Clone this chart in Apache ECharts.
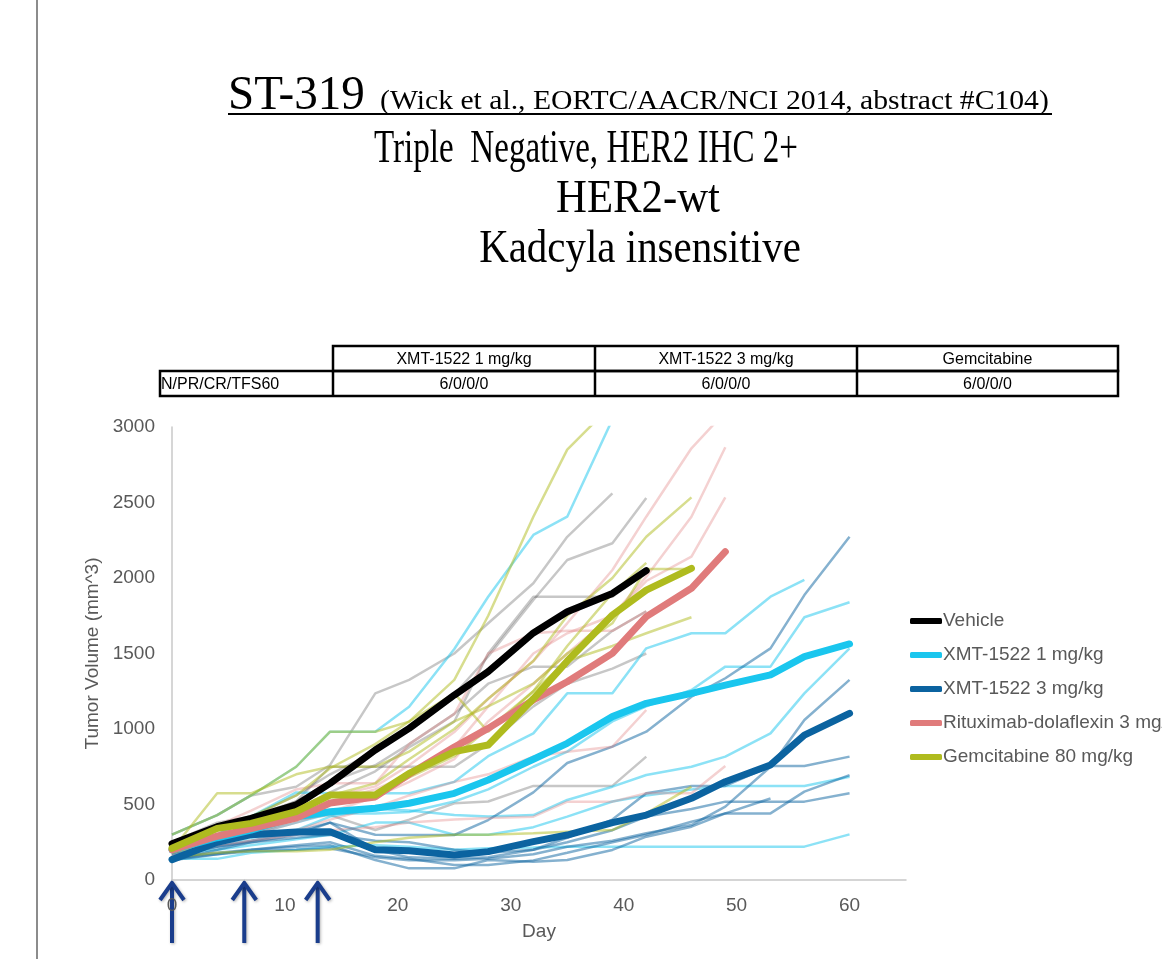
<!DOCTYPE html>
<html>
<head>
<meta charset="utf-8">
<script src="https://cdn.jsdelivr.net/npm/echarts@6/dist/echarts.min.js"></script>
<style>
    html, body { margin: 0; padding: 0; background: #fff; }
    #myChart { width: 1162px; height: 959px; }
</style>
</head>
<body>
<div id="myChart"></div>
<script>
/*----------数据--------*/
var days = [0, 4, 7, 11, 14, 18, 21, 25, 28, 32, 35, 39, 42, 46, 49, 53, 56, 60];
var doseDays = [0, 6.4, 12.9];

var groupNames = ['Vehicle', 'XMT-1522 1 mg/kg', 'XMT-1522 3 mg/kg', 'Rituximab-dolaflexin 3 mg/kg', 'Gemcitabine 80 mg/kg'];

// group means (bold lines)
var vehicleMean = [240, 353, 408, 497, 640, 861, 1004, 1225, 1380, 1636, 1777, 1898, 2049];
var xmt1Mean = [200, 280, 330, 419, 452, 475, 508, 574, 662, 800, 905, 1082, 1170, 1236, 1291, 1358, 1479, 1563];
var xmt3Mean = [135, 250, 300, 318, 320, 200, 194, 166, 188, 254, 298, 380, 430, 541, 651, 762, 960, 1104];
var rituxMean = [200, 290, 340, 410, 510, 550, 700, 880, 1004, 1192, 1313, 1501, 1744, 1932, 2174];
var gemMean = [210, 342, 375, 453, 563, 563, 706, 850, 894, 1200, 1450, 1755, 1920, 2064];

// individual animals (thin lines)
var vehicleMice = [
    [300, 430, 560, 618, 762, 1236, 1325, 1500, 1700, 1965, 2273, 2561],
    [250, 380, 420, 560, 700, 850, 1000, 1230, 1480, 1854, 2119, 2230, 2530],
    [230, 330, 380, 460, 580, 720, 880, 1050, 1500, 1876, 1876, 1876, 2040],
    [220, 330, 420, 520, 650, 760, 900, 1100, 1300, 1413, 1413, 1650, 1780],
    [180, 250, 300, 400, 430, 331, 400, 508, 520, 623, 623, 623, 817],
    [200, 300, 400, 520, 750, 750, 750, 750, 900, 1150, 1300, 1400, 1500]
];
var xmt1Mice = [
    [300, 430, 560, 750, 982, 982, 1148, 1530, 1876, 2285, 2406, 3050],
    [220, 300, 420, 580, 575, 575, 575, 650, 820, 971, 1236, 1236, 1534, 1634, 1634, 1876, 1987],
    [200, 250, 300, 380, 440, 440, 450, 520, 600, 750, 850, 1050, 1150, 1258, 1413, 1413, 1740, 1839],
    [180, 230, 280, 330, 420, 470, 460, 430, 420, 430, 530, 618, 695, 750, 817, 971, 1236, 1534],
    [140, 140, 180, 200, 220, 230, 220, 200, 210, 215, 220, 221, 221, 221, 221, 221, 221, 302],
    [170, 200, 230, 270, 300, 380, 380, 300, 300, 350, 420, 520, 560, 600, 623, 623, 623, 684]
];
var xmt3Mice = [
    [150, 220, 260, 320, 380, 300, 298, 298, 397, 580, 775, 883, 982, 1214, 1336, 1534, 1887, 2273],
    [130, 170, 190, 200, 210, 150, 130, 130, 140, 170, 220, 260, 309, 364, 486, 750, 1060, 1325],
    [130, 200, 250, 300, 380, 200, 150, 140, 150, 200, 280, 400, 574, 623, 623, 755, 755, 817],
    [150, 180, 200, 230, 250, 160, 140, 100, 100, 130, 180, 250, 300, 386, 441, 441, 585, 695],
    [170, 220, 250, 280, 300, 260, 250, 200, 180, 200, 250, 330, 420, 470, 519, 519, 519, 574],
    [140, 170, 200, 220, 230, 132, 77, 77, 132, 121, 132, 199, 287, 353, 441, 540]
];
var rituxMice = [
    [220, 320, 380, 430, 550, 620, 760, 980, 1200, 1450, 1700, 2053, 2406, 2859, 3100],
    [200, 290, 340, 420, 520, 600, 700, 880, 1150, 1500, 1634, 1750, 2009, 2406, 2866],
    [180, 260, 300, 380, 450, 550, 650, 800, 1050, 1300, 1500, 1750, 1980, 2141, 2534],
    [160, 230, 260, 300, 330, 350, 380, 400, 410, 419, 519, 519, 574, 574, 755],
    [190, 250, 290, 330, 400, 480, 560, 650, 700, 817, 850, 883, 1126],
    [240, 360, 460, 600, 640, 640, 900, 1100, 1500, 1634, 1650, 1650, 1780]
];
var gemMice = [
    [200, 574, 574, 700, 750, 750, 850, 1050, 1150, 1300, 1500, 1700, 2060, 2060],
    [300, 430, 560, 750, 982, 982, 1049, 1325, 1750, 2406, 2850, 3150],
    [230, 340, 400, 480, 560, 640, 800, 1000, 1200, 1450, 1750, 2000, 2273, 2534],
    [250, 360, 420, 560, 740, 900, 1050, 1236, 982, 1250, 1450, 1550, 1634, 1740],
    [150, 180, 190, 190, 200, 250, 280, 300, 300, 309, 320, 331, 441, 618],
    [180, 260, 320, 420, 500, 560, 680, 820, 1000, 1250, 1550, 1900, 2100]
];

var yTicks = [0, 500, 1000, 1500, 2000, 2500, 3000];

// summary table
var tableHeaders = ['XMT-1522 1 mg/kg', 'XMT-1522 3 mg/kg', 'Gemcitabine'];
var tableRowLabel = 'N/PR/CR/TFS60';
var tableValues = ['6/0/0/0', '6/0/0/0', '6/0/0/0'];

var titleMain = 'ST-319';
var titleRef = '(Wick et al., EORTC/AACR/NCI 2014, abstract #C104)';
var subtitleLines = ['Triple  Negative, HER2 IHC 2+', 'HER2-wt', 'Kadcyla insensitive'];

/*----------样式--------*/
var boldColors = ['#000000', '#1ac6ee', '#0b63a0', '#e07b7b', '#afbb1e'];
var thinColors = ['rgba(0,0,0,0.22)', 'rgba(26,198,238,0.5)', 'rgba(11,99,160,0.5)', 'rgba(224,123,123,0.35)', 'rgba(175,187,30,0.5)'];
var labelFont = 'Liberation Sans';

function toPairs(values) {
    var out = [];
    for (var i = 0; i < values.length; i++) {
        out.push([days[i], values[i]]);
    }
    return out;
}

var means = [vehicleMean, xmt1Mean, xmt3Mean, rituxMean, gemMean];
var mice = [vehicleMice, xmt1Mice, xmt3Mice, rituxMice, gemMice];

var series = [];
// thin lines first so the means sit on top
for (var g = 0; g < mice.length; g++) {
    for (var m = 0; m < mice[g].length; m++) {
        series.push({
            name: groupNames[g] + ' #' + (m + 1),
            type: 'line',
            data: toPairs(mice[g][m]),
            showSymbol: false,
            silent: true,
            lineStyle: { color: thinColors[g], width: 2.5 },
            itemStyle: { color: thinColors[g] },
            z: 2
        });
    }
}
var meanOrder = [2, 1, 0, 3, 4];
for (var k = 0; k < meanOrder.length; k++) {
    var gi = meanOrder[k];
    series.push({
        name: groupNames[gi],
        type: 'line',
        data: toPairs(means[gi]),
        showSymbol: false,
        lineStyle: { color: boldColors[gi], width: 7, cap: 'round', join: 'round' },
        itemStyle: { color: boldColors[gi] },
        z: 3
    });
}

var myChart = echarts.init(document.getElementById('myChart'));
myChart.setOption({
    animation: false,
    grid: { left: 172, top: 427, width: 734, height: 453, containLabel: false },
    legend: {
        data: groupNames,
        orient: 'vertical',
        left: 905,
        top: 605,
        icon: 'roundRect',
        itemWidth: 32,
        itemHeight: 6,
        itemGap: 12,
        textStyle: { color: '#595959', fontSize: 19, fontFamily: labelFont, lineHeight: 22, padding: [0, 0, 0, -4] }
    },
    xAxis: {
        type: 'value',
        min: 0,
        max: 65,
        interval: 10,
        name: 'Day',
        nameLocation: 'middle',
        nameGap: 42,
        nameTextStyle: { color: '#595959', fontSize: 19, fontFamily: labelFont },
        axisLine: { lineStyle: { color: '#c8c8c8', width: 1.5 } },
        axisTick: { show: false },
        splitLine: { show: false },
        axisLabel: { color: '#595959', fontSize: 19, fontFamily: labelFont, margin: 16, showMaxLabel: false }
    },
    yAxis: {
        type: 'value',
        min: yTicks[0],
        max: yTicks[yTicks.length - 1],
        interval: yTicks[1] - yTicks[0],
        name: 'Tumor Volume (mm^3)',
        nameLocation: 'middle',
        nameGap: 65,
        nameTextStyle: { color: '#595959', fontSize: 19, fontFamily: labelFont },
        axisLine: { show: true, lineStyle: { color: '#c8c8c8', width: 1.5 } },
        axisTick: { show: false },
        splitLine: { show: false },
        axisLabel: {
            color: '#595959', fontSize: 19, fontFamily: labelFont, margin: 17,
            formatter: function (v) { return String(v); }
        }
    },
    series: series
});

/*----------标题、表格、箭头--------*/
var graphics = [];
graphics.push({ type: 'line', shape: { x1: 37, y1: 0, x2: 37, y2: 959 }, style: { stroke: '#8c8c8c', lineWidth: 2 } });

graphics.push({ type: 'text', x: 228, y: 120, scaleX: 0.98,
    style: { text: titleMain, font: '48px "Liberation Serif"', fill: '#000', textVerticalAlign: 'bottom' } });
graphics.push({ type: 'text', x: 380, y: 116, scaleX: 1.06,
    style: { text: titleRef, font: '28px "Liberation Serif"', fill: '#000', textVerticalAlign: 'bottom' } });
graphics.push({ type: 'line', shape: { x1: 228, y1: 114, x2: 1052, y2: 114 }, style: { stroke: '#000', lineWidth: 2 } });

var subCenters = [586, 638, 640];
var subBaselines = [173, 223, 273];
var subScales = [0.72, 0.93, 0.89];
for (var s = 0; s < subtitleLines.length; s++) {
    graphics.push({ type: 'text', x: subCenters[s], y: subBaselines[s], scaleX: subScales[s],
        style: { text: subtitleLines[s], font: '46px "Liberation Serif"', fill: '#000', textAlign: 'center', textVerticalAlign: 'bottom' } });
}

// table
var colX = [333, 595, 857, 1118];
var rowY = [346, 371, 396];
var tableFont = '16px "Liberation Sans"';
graphics.push({ type: 'rect', shape: { x: colX[0], y: rowY[0], width: colX[3] - colX[0], height: rowY[1] - rowY[0] },
    style: { fill: 'none', stroke: '#000', lineWidth: 2.5 } });
graphics.push({ type: 'rect', shape: { x: 160, y: rowY[1], width: colX[3] - 160, height: rowY[2] - rowY[1] },
    style: { fill: 'none', stroke: '#000', lineWidth: 2.5 } });
for (var c = 1; c < 3; c++) {
    graphics.push({ type: 'line', shape: { x1: colX[c], y1: rowY[0], x2: colX[c], y2: rowY[2] }, style: { stroke: '#000', lineWidth: 2.5 } });
}
graphics.push({ type: 'line', shape: { x1: colX[0], y1: rowY[1], x2: colX[0], y2: rowY[2] }, style: { stroke: '#000', lineWidth: 2.5 } });
for (var c2 = 0; c2 < tableHeaders.length; c2++) {
    var cx = (colX[c2] + colX[c2 + 1]) / 2;
    graphics.push({ type: 'text', x: cx, y: (rowY[0] + rowY[1]) / 2 + 1,
        style: { text: tableHeaders[c2], font: tableFont, fill: '#000', textAlign: 'center', textVerticalAlign: 'middle' } });
    graphics.push({ type: 'text', x: cx, y: (rowY[1] + rowY[2]) / 2 + 1,
        style: { text: tableValues[c2], font: tableFont, fill: '#000', textAlign: 'center', textVerticalAlign: 'middle' } });
}
graphics.push({ type: 'text', x: 161, y: (rowY[1] + rowY[2]) / 2 + 1,
    style: { text: tableRowLabel, font: tableFont, fill: '#000', textAlign: 'left', textVerticalAlign: 'middle' } });

// dosing arrows
for (var d = 0; d < doseDays.length; d++) {
    var p = myChart.convertToPixel({ gridIndex: 0 }, [doseDays[d], 0]);
    var tipY = p[1] + 2;
    graphics.push({ type: 'group', z: 100, children: [
        { type: 'line', shape: { x1: p[0], y1: tipY + 2, x2: p[0], y2: tipY + 61 },
            style: { stroke: '#1a3d8c', lineWidth: 4, shadowBlur: 3, shadowColor: 'rgba(0,0,0,0.3)', shadowOffsetX: 1, shadowOffsetY: 1 } },
        { type: 'polyline', shape: { points: [[p[0] - 12, tipY + 18], [p[0], tipY + 1], [p[0] + 12, tipY + 18]] },
            style: { stroke: '#1a3d8c', lineWidth: 4, fill: 'none', lineJoin: 'miter', shadowBlur: 3, shadowColor: 'rgba(0,0,0,0.3)', shadowOffsetX: 1, shadowOffsetY: 1 } }
    ] });
}

myChart.setOption({ graphic: graphics });
</script>
</body>
</html>
